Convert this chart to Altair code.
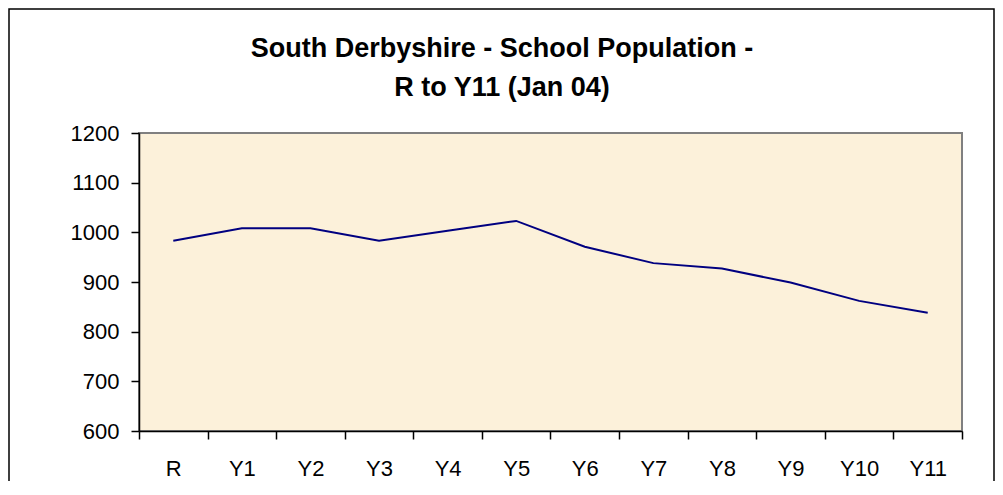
import altair as alt
import pandas as pd

years = ["R", "Y1", "Y2", "Y3", "Y4", "Y5", "Y6", "Y7", "Y8", "Y9", "Y10", "Y11"]
pupils = [983, 1008, 1008, 983, 1003, 1023, 971, 938, 927, 899, 862, 838]
y_ticks = [600, 700, 800, 900, 1000, 1100, 1200]
title_lines = ["South Derbyshire - School Population -", "R to Y11 (Jan 04)"]

df = pd.DataFrame({"year": years, "pupils": pupils})

FONT = "Liberation Sans"

line = alt.Chart(df).mark_line(color="#000080", strokeWidth=2).encode(
    x=alt.X(
        "year:N",
        sort=years,
        scale=alt.Scale(paddingInner=0, paddingOuter=0),
        axis=alt.Axis(
            title=None,
            labelAngle=0,
            tickBand="extent",
            tickSize=8,
            tickWidth=1.5,
            domainWidth=1.5,
            labelPadding=19,
            labelFontSize=22,
            labelFont=FONT,
            labelColor="black",
            domainColor="black",
            tickColor="black",
            grid=False,
        ),
    ),
    y=alt.Y(
        "pupils:Q",
        scale=alt.Scale(domain=[600, 1200], nice=False, zero=False),
        axis=alt.Axis(
            title=None,
            values=y_ticks,
            format="d",
            tickSize=8,
            tickWidth=1.5,
            domainWidth=1.5,
            labelPadding=12,
            labelFontSize=22,
            labelFont=FONT,
            labelColor="black",
            domainColor="black",
            tickColor="black",
            grid=False,
        ),
    ),
)

base = alt.Chart(pd.DataFrame({"a": [0]}))

border = base.mark_rect(
    fill=None, stroke="black", strokeWidth=1.5, clip=False
).encode(
    x=alt.value(-130), x2=alt.value(855), y=alt.value(-124), y2=alt.value(420)
)

title = base.mark_text(
    font=FONT,
    fontSize=27,
    fontWeight="bold",
    lineHeight=39,
    color="black",
    align="center",
    baseline="alphabetic",
).encode(
    x=alt.value(363), y=alt.value(-76), text=alt.value(title_lines)
)

chart = (
    alt.layer(border, line, title)
    .properties(
        width=823,
        height=298,
        background="white",
        autosize=alt.AutoSizeParams(type="none"),
        padding={"left": 131, "top": 125, "right": 33, "bottom": 50},
    )
    .configure_view(fill="#FCF1DA", stroke="#808080", strokeWidth=2)
)

chart.save("out.html", embed_options={"renderer": "svg", "actions": False})
